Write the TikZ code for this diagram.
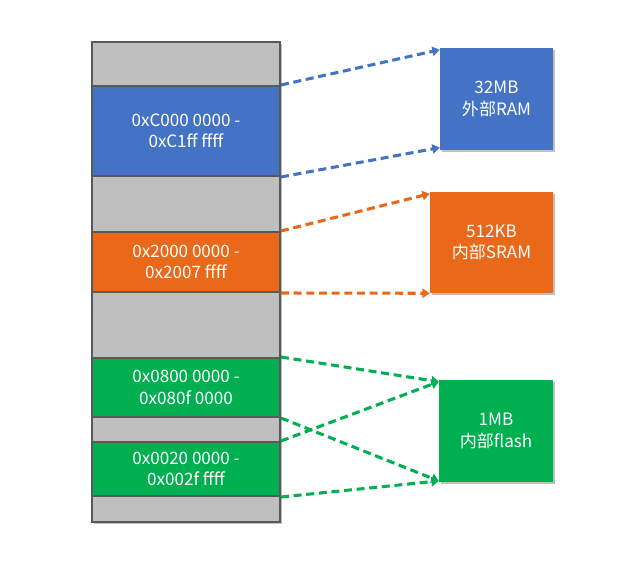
\documentclass[tikz,border=0pt]{standalone}
\usepackage{fontspec}
\setmainfont{Noto Sans CJK SC}
\usetikzlibrary{arrows.meta, positioning, shadows}
\usepackage{xcolor}

\definecolor{memgray}{HTML}{BFBFBF}
\definecolor{framegray}{HTML}{595959}
\definecolor{memblue}{HTML}{4472C4}
\definecolor{memorange}{HTML}{EA6819}
\definecolor{memgreen}{HTML}{00B050}
\newcommand{\memfont}{\fontsize{12.8pt}{16pt}\selectfont}

\begin{document}
\begin{tikzpicture}[x=0.75pt, y=-0.75pt,
		seg/.style={draw=framegray, line width=1.5pt, minimum width=141pt, inner sep=0pt,
			text=white, align=center, font=\memfont,
			drop shadow={shadow xshift=1.5pt, shadow yshift=-1.5pt, opacity=0.25, fill=black}},
		mem/.style={inner sep=0pt, text=white, align=center, font=\memfont,
			drop shadow={shadow xshift=1.5pt, shadow yshift=-1.5pt, opacity=0.25, fill=black}},
		link/.style={-{Triangle[length=5.5pt,width=7pt]}, line width=2.3pt, dash pattern=on 6pt off 3.5pt}]
			\useasboundingbox (0,0) rectangle (640,561);
			
			% address column
			\foreach \name/\top/\bot/\col/\txt in {gapa/42/86/memgray/{},
				fmc/86/176/memblue/{0xC000 0000 -\\0xC1ff ffff},
				gapb/176/232/memgray/{},
				sram/232/292/memorange/{0x2000 0000 -\\0x2007 ffff},
				gapc/292/358/memgray/{},
				flasha/358/417/memgreen/{0x0800 0000 -\\0x080f 0000},
				gapd/417/442/memgray/{},
				flashb/442/496/memgreen/{0x0020 0000 -\\0x002f ffff},
				gape/496/522/memgray/{}}{
				\node[seg, fill=\col, minimum height={(\bot-\top)*0.75pt}] (\name) at (186,{(\top+\bot)/2}) {\txt};
			}
			
			% memories
			\node[mem, fill=memblue, minimum width=84.75pt, minimum height=76.5pt] (extram) at (496.5,99) {32MB\\外部RAM};
			\node[mem, fill=memorange, minimum width=92.25pt, minimum height=75.75pt] (intsram) at (491.5,242.5) {512KB\\内部SRAM};
			\node[mem, fill=memgreen, minimum width=85.5pt, minimum height=76.5pt] (intflash) at (496,431) {1MB\\内部flash};
			
			\draw[link, color=memblue] (fmc.north east) -- ([yshift=-1.5pt]extram.north west);
			\draw[link, color=memblue] (fmc.south east) -- ([yshift=2pt]extram.south west);
			\draw[link, color=memorange] (sram.north east) -- ([yshift=-1.5pt]intsram.north west);
			\draw[link, color=memorange] (sram.south east) -- (intsram.south west);
			\draw[link, color=memgreen] (flasha.north east) -- ([yshift=-1.5pt]intflash.north west);
			\draw[link, color=memgreen] (flasha.south east) -- ([yshift=1pt]intflash.south west);
			\draw[link, color=memgreen] (flashb.north east) -- ([yshift=-1.5pt]intflash.north west);
			\draw[link, color=memgreen] (flashb.south east) -- ([yshift=1pt]intflash.south west);
			
		\end{tikzpicture}
\end{document}
